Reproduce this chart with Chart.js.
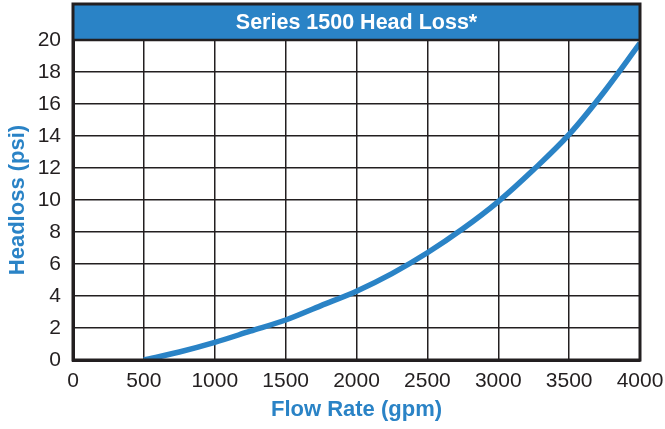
<!DOCTYPE html>
<html>
<head>
<meta charset="utf-8">
<script src="https://cdn.jsdelivr.net/npm/chart.js@4/dist/chart.umd.min.js"></script>
<style>
  html, body { margin: 0; padding: 0; background: #fff; }
  #wrap { width: 665px; height: 429px; }
</style>
</head>
<body>
<div id="wrap"><canvas id="headloss-chart" width="665" height="429"></canvas></div>
<script>
var flowRate = [500, 750, 1000, 1250, 1500, 1750, 2000, 2250, 2500, 2750, 3000, 3250, 3500, 3750, 4000];
var headLoss = [0, 0.5, 1.1, 1.8, 2.5, 3.4, 4.3, 5.4, 6.7, 8.2, 9.9, 11.9, 14.1, 16.8, 19.8];
var chartTitle = 'Series 1500 Head Loss*';
var xTitle = 'Flow Rate (gpm)';
var yTitle = 'Headloss (psi)';

var blue = '#2a83c6';
var ink = '#231f20';
var fam = '"Liberation Sans", Arial, sans-serif';

// blue title bar sitting on top of the plot area
var titleBar = {
    id: 'titleBar',
    afterDraw: function(chart) {
        var ctx = chart.ctx;
        var a = chart.chartArea;
        ctx.save();
        ctx.fillStyle = blue;
        ctx.fillRect(a.left, a.top - 36, a.right - a.left, 36);
        ctx.strokeStyle = ink;
        ctx.lineWidth = 3;
        ctx.strokeRect(a.left, a.top - 36, a.right - a.left, a.bottom - a.top + 36);
        ctx.lineWidth = 2.5;
        ctx.beginPath();
        ctx.moveTo(a.left, a.top);
        ctx.lineTo(a.right, a.top);
        ctx.stroke();
        ctx.fillStyle = '#fff';
        ctx.font = 'bold 21.5px ' + fam;
        ctx.textAlign = 'center';
        ctx.textBaseline = 'middle';
        ctx.fillText(chartTitle, (a.left + a.right) / 2, a.top - 17);
        ctx.restore();
    }
};

var ctx = document.getElementById('headloss-chart').getContext('2d');
new Chart(ctx, {
    type: 'line',
    data: {
        datasets: [{
            data: flowRate.map((x, i) => ({x: x, y: headLoss[i]})),
            borderColor: blue,
            borderWidth: 5.5,
            pointRadius: 0,
            cubicInterpolationMode: 'monotone',
            fill: false
        }]
    },
    options: {
        responsive: false,
        animation: false,
        layout: { padding: { top: 40, right: 0, left: 0, bottom: 0 } },
        plugins: { legend: { display: false }, tooltip: { enabled: false } },
        scales: {
            x: {
                type: 'linear', min: 0, max: 4000,
                afterFit: function(scale) { scale.height = 69; scale.paddingRight = 25; },
                ticks: { stepSize: 500, color: ink, padding: 9, maxRotation: 0,
                    callback: function(v) { return String(v); },
                    font: { family: fam, size: 21 } },
                grid: { color: ink, lineWidth: 1.5, drawTicks: false },
                border: { color: ink, width: 3 },
                title: { display: true, text: xTitle, color: blue, padding: { top: 0, bottom: 6 },
                    font: { family: fam, size: 22, weight: 'bold' } }
            },
            y: {
                min: 0, max: 20,
                afterFit: function(scale) { scale.width = 73; },
                ticks: { stepSize: 2, color: ink, padding: 12,
                    callback: function(v) { return String(v); },
                    font: { family: fam, size: 21 } },
                grid: { color: ink, lineWidth: 1.5, drawTicks: false },
                border: { color: ink, width: 3 },
                title: { display: true, text: yTitle, color: blue, padding: { top: 5, bottom: 0 },
                    font: { family: fam, size: 22, weight: 'bold' } }
            }
        }
    },
    plugins: [titleBar]
});
</script>
</body>
</html>
